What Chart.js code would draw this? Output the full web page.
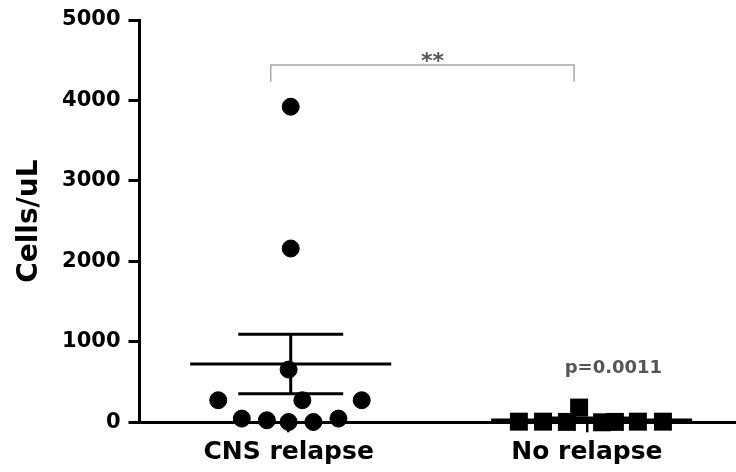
<!DOCTYPE html>
<html><head><meta charset="utf-8">
<script src="https://cdn.jsdelivr.net/npm/chart.js@4/dist/chart.umd.min.js"></script>
<style>html,body{margin:0;padding:0;background:#fff}#wrap{width:736px;height:472px}</style>
</head><body><div id="wrap"><canvas id="c" width="736" height="472"></canvas></div>
<script>
// ---- data ----
const categories = ['CNS relapse', 'No relapse'];
const cnsValues = [3922, 2160, 655, 274, 274, 274, 46, 25, 4, 4, 46];
const cnsJitter = [0.007, 0.007, 0, -0.236, 0.046, 0.245, -0.157, -0.073, 0, 0.083, 0.167];
const noRelapseValues = [8, 8, 5, 183, 0, 5, 8, 8];
const noRelapseJitter = [-0.228, -0.147, -0.067, -0.026, 0.051, 0.094, 0.171, 0.255];
const groupMeans = [725, 30];
const groupSEM = [370, 22];
const yTicks = [0, 1000, 2000, 3000, 4000, 5000];
const yTitle = 'Cells/uL';
const significance = '**';
const pValueLabel = 'p=0.0011';
const bracketLevel = 4441;

// ---- layout constants ----
const GROUP_SHIFT = [0.007, 0.016];
const MEAN_HALF = 0.337, CAP_HALF = 0.176;
const BRACKET_X = [0.94, 1.957], BRACKET_DROP = 208;
const STAR_POS = {x: 1.482, y: 4403};
const P_POS = {x: 2.089, y: 609};

Chart.defaults.font.family = "'DejaVu Sans', sans-serif";

function meanDataset(i) {
  const c = i + 1 + GROUP_SHIFT[i];
  return {type: 'scatter', data: [{x: c - MEAN_HALF, y: groupMeans[i]}, {x: c + MEAN_HALF, y: groupMeans[i]}],
    showLine: true, borderColor: '#000', borderWidth: 3, pointRadius: 0, clip: false};
}
function semDataset(i) {
  const c = i + 1 + GROUP_SHIFT[i];
  const hi = groupMeans[i] + groupSEM[i], lo = groupMeans[i] - groupSEM[i];
  return {type: 'scatter', data: [
      {x: c - CAP_HALF, y: hi}, {x: c + CAP_HALF, y: hi}, {x: c, y: null},
      {x: c, y: hi}, {x: c, y: lo}, {x: c, y: null},
      {x: c - CAP_HALF, y: lo}, {x: c + CAP_HALF, y: lo}],
    showLine: true, spanGaps: false, borderColor: '#000', borderWidth: 3, pointRadius: 0, clip: false};
}

const textPlugin = {
  id: 'texts',
  afterDatasetsDraw(chart) {
    const {ctx, scales: {x, y}} = chart;
    ctx.save();
    ctx.textAlign = 'center';
    ctx.textBaseline = 'alphabetic';
    ctx.fillStyle = '#555';
    ctx.font = "bold 22px 'DejaVu Sans'";
    ctx.fillText(significance, x.getPixelForValue(STAR_POS.x), y.getPixelForValue(STAR_POS.y));
    ctx.font = "bold 18px 'DejaVu Sans'";
    ctx.fillText(pValueLabel, x.getPixelForValue(P_POS.x), y.getPixelForValue(P_POS.y));
    ctx.restore();
  }
};

new Chart(document.getElementById('c'), {
  type: 'scatter',
  data: {
    datasets: [
      {label: categories[0], data: cnsValues.map((v, i) => ({x: 1 + cnsJitter[i], y: v})),
        pointStyle: 'circle', pointRadius: 8.5, borderWidth: 1, backgroundColor: '#000', borderColor: '#000', clip: false},
      {label: categories[1], data: noRelapseValues.map((v, i) => ({x: 2 + noRelapseJitter[i], y: v})),
        pointStyle: 'rect', pointRadius: 12.7, borderWidth: 0, backgroundColor: '#000', borderColor: '#000', clip: false},
      meanDataset(0), semDataset(0), meanDataset(1), semDataset(1),
      {type: 'scatter', data: [
          {x: BRACKET_X[0], y: bracketLevel - BRACKET_DROP}, {x: BRACKET_X[0], y: bracketLevel},
          {x: BRACKET_X[1], y: bracketLevel}, {x: BRACKET_X[1], y: bracketLevel - BRACKET_DROP}],
        showLine: true, borderColor: '#a8a8a8', borderWidth: 1.5, pointRadius: 0, clip: false}
    ]
  },
  options: {
    responsive: false,
    animation: false,
    devicePixelRatio: 1,
    events: [],
    layout: {autoPadding: false, padding: {top: 20, left: 0, right: 0, bottom: 0}},
    plugins: {legend: {display: false}, tooltip: {enabled: false}},
    scales: {
      x: {
        type: 'linear', min: 0.5, max: 2.5,
        afterBuildTicks: s => { s.ticks = [{value: 1}, {value: 2}]; },
        afterFit: s => { s.height = 49.7; s.paddingLeft = 0; s.paddingRight = 0; },
        ticks: {callback: v => categories[v - 1], color: '#000', font: {size: 25, weight: 'bold'}, padding: 5, maxRotation: 0},
        grid: {drawOnChartArea: false, drawTicks: true, tickLength: 10, color: '#000', lineWidth: 2.5},
        border: {display: true, color: '#000', width: 3}
      },
      y: {
        type: 'linear', min: 0, max: 5000,
        afterBuildTicks: s => { s.ticks = yTicks.map(v => ({value: v})); },
        afterFit: s => { s.width = 139.5; s.paddingTop = 0; s.paddingBottom = 0; },
        ticks: {color: '#000', font: {size: 21, weight: 'bold'}, padding: 8, callback: v => String(v)},
        grid: {drawOnChartArea: false, drawTicks: true, tickLength: 11, color: '#000', lineWidth: 3},
        border: {display: true, color: '#000', width: 3},
        title: {display: true, text: yTitle, color: '#000', font: {size: 28, weight: 'bold'}, padding: {top: 13, bottom: 0}}
      }
    }
  },
  plugins: [textPlugin]
});
</script></body></html>
